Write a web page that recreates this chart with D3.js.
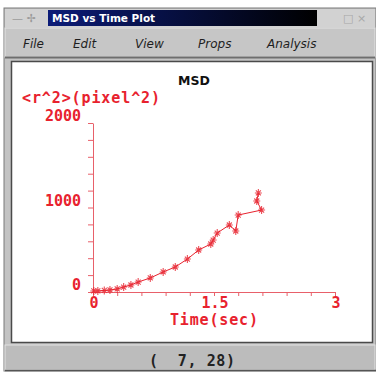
<!DOCTYPE html>
<html>
<head>
<meta charset="utf-8">
<script src="https://cdn.jsdelivr.net/npm/d3@7"></script>
<style>
  html, body { margin: 0; padding: 0; background: #fff; }
  svg { display: block; }
  .mono { font-family: "DejaVu Sans Mono", "Liberation Mono", monospace; font-weight: bold; }
</style>
</head>
<body>
<svg id="win" width="376" height="374"></svg>
<script>
// Mean squared displacement measured at each time lag
const timeSec = [0.01, 0.06, 0.14, 0.21, 0.30, 0.38, 0.47, 0.56, 0.71, 0.87, 1.02, 1.17, 1.31, 1.46, 1.49, 1.54, 1.69, 1.77, 1.80, 2.09, 2.03, 2.05];
const msdPx2  = [12, 12, 18, 24, 36, 59, 83, 118, 166, 237, 296, 390, 497, 568, 615, 698, 793, 722, 911, 970, 1077, 1172];

const xTicks = [0, 0.3, 0.6, 0.9, 1.2, 1.5, 1.8, 2.1, 2.4, 2.7, 3];
const xTickLabels = ["0", "1.5", "3"];
const yTicks = [0, 200, 400, 600, 800, 1000, 1200, 1400, 1600, 1800, 2000];
const yTickLabels = ["0", "1000", "2000"];

const menuItems = ["File", "Edit", "View", "Props", "Analysis"];
const menuX = [23, 73, 135, 198, 267];

const RED = "#e8222e";
const AXIS = "#e8606a";

const svg = d3.select("#win");

// ---- window frame ----
svg.append("rect").attr("x", 4).attr("y", 8).attr("width", 372).attr("height", 363)
  .attr("fill", "#c3c3c3").attr("stroke", "#7a7a7a").attr("stroke-width", 1);

// title bar
const grad = svg.append("defs").append("linearGradient").attr("id", "tb")
  .attr("x1", "0").attr("x2", "1").attr("y1", "0").attr("y2", "0");
grad.append("stop").attr("offset", "0").attr("stop-color", "#0c1c78");
grad.append("stop").attr("offset", "1").attr("stop-color", "#000000");
svg.append("rect").attr("x", 5).attr("y", 9).attr("width", 370).attr("height", 18).attr("fill", "#d2d2d2");
svg.append("rect").attr("x", 48).attr("y", 10).attr("width", 269).attr("height", 16).attr("fill", "url(#tb)");
svg.append("text").attr("x", 52).attr("y", 22)
  .attr("font-family", "DejaVu Sans, sans-serif").attr("font-size", 10.5).attr("font-weight", "bold")
  .attr("fill", "#ffffff").text("MSD vs Time Plot");
svg.append("text").attr("x", 12).attr("y", 22).attr("font-family", "DejaVu Sans, sans-serif")
  .attr("font-size", 11).attr("fill", "#9a9a9a").text("— ✢");
svg.append("text").attr("x", 343).attr("y", 22).attr("font-family", "DejaVu Sans, sans-serif")
  .attr("font-size", 11).attr("fill", "#a8a8a8").text("□ ×");

// menu bar
svg.append("rect").attr("x", 5).attr("y", 28).attr("width", 370).attr("height", 29)
  .attr("fill", "#c6c6c6").attr("stroke", "#e4e4e4").attr("stroke-width", 1);
svg.append("line").attr("x1", 5).attr("x2", 375).attr("y1", 57.5).attr("y2", 57.5)
  .attr("stroke", "#6e6e6e").attr("stroke-width", 2);
svg.selectAll("text.menu").data(menuItems).join("text").attr("class", "menu")
  .attr("x", (d, i) => menuX[i]).attr("y", 48)
  .attr("font-family", "DejaVu Sans, sans-serif").attr("font-size", 12).attr("font-style", "italic")
  .attr("font-weight", 500).attr("fill", "#1e1e1e").text(d => d);

// plot panel
svg.append("rect").attr("x", 11.5).attr("y", 61.5).attr("width", 361).attr("height", 281)
  .attr("fill", "#ffffff").attr("stroke", "#4a4a4a").attr("stroke-width", 1.5);

// status bar
svg.append("rect").attr("x", 5).attr("y", 345).attr("width", 370).attr("height", 25)
  .attr("fill", "#bcbcbc").attr("stroke", "#e2e2e2").attr("stroke-width", 1);
svg.append("line").attr("x1", 5).attr("x2", 376).attr("y1", 370.5).attr("y2", 370.5)
  .attr("stroke", "#555").attr("stroke-width", 1.5);
svg.append("text").attr("class", "mono").attr("x", 192).attr("y", 365.5)
  .attr("text-anchor", "middle").attr("font-size", 15).attr("fill", "#222")
  .attr("textLength", 86).attr("lengthAdjust", "spacing")
  .attr("xml:space", "preserve").style("white-space", "pre").text("(  7, 28)");

// ---- chart ----
const x = d3.scaleLinear().domain([0, 3]).range([93, 335]);
const y = d3.scaleLinear().domain([0, 2000]).range([292, 123]);

svg.append("text").attr("x", 194).attr("y", 85).attr("text-anchor", "middle")
  .attr("font-family", "DejaVu Sans, sans-serif").attr("font-size", 12.5).attr("font-weight", "bold")
  .attr("fill", "#111").text("MSD");

svg.append("text").attr("class", "mono").attr("x", 22).attr("y", 103)
  .attr("font-size", 15).attr("fill", RED)
  .attr("textLength", 138).attr("lengthAdjust", "spacing").text("<r^2>(pixel^2)");

const xAxis = svg.append("g").attr("transform", `translate(0,${y(0)})`)
  .call(d3.axisBottom(x).tickValues(xTicks).tickSizeInner(4).tickSizeOuter(0).tickFormat(""));
const yAxis = svg.append("g").attr("transform", `translate(${x(0)},0)`)
  .call(d3.axisLeft(y).tickValues(yTicks).tickSizeInner(5).tickSizeOuter(0).tickFormat(""));
[xAxis, yAxis].forEach(g => {
  g.selectAll("path, line").attr("stroke", AXIS).attr("stroke-width", 1);
});

const xLabelVals = [0, 1.5, 3];
svg.selectAll("text.xl").data(xTickLabels).join("text").attr("class", "mono xl")
  .attr("x", (d, i) => x(xLabelVals[i]) + 1).attr("y", 308).attr("text-anchor", "middle")
  .attr("font-size", 15).attr("fill", RED).text(d => d);
const yLabelVals = [0, 1000, 2000];
svg.selectAll("text.yl").data(yTickLabels).join("text").attr("class", "mono yl")
  .attr("x", 81).attr("y", (d, i) => y(yLabelVals[i]) - 2).attr("text-anchor", "end")
  .attr("font-size", 15).attr("fill", RED).text(d => d);

svg.append("text").attr("class", "mono").attr("x", 214).attr("y", 325).attr("text-anchor", "middle")
  .attr("font-size", 15).attr("fill", RED).attr("textLength", 88).attr("lengthAdjust", "spacing")
  .text("Time(sec)");

// data line and cross markers
const pts = timeSec.map((t, i) => [t, msdPx2[i]]);
svg.append("path").datum(pts)
  .attr("d", d3.line().x(d => x(d[0])).y(d => y(d[1])))
  .attr("fill", "none").attr("stroke", RED).attr("stroke-width", 1);
const mk = svg.append("g").attr("stroke", RED).attr("opacity", 0.8);
mk.selectAll("path").data(pts).join("path")
  .attr("transform", d => `translate(${x(d[0])},${y(d[1])})`)
  .attr("stroke-width", 1.1)
  .attr("d", "M-3.5,0H3.5M0,-4V4M-2.5,-2.5L2.5,2.5M-2.5,2.5L2.5,-2.5");
</script>
</body>
</html>
